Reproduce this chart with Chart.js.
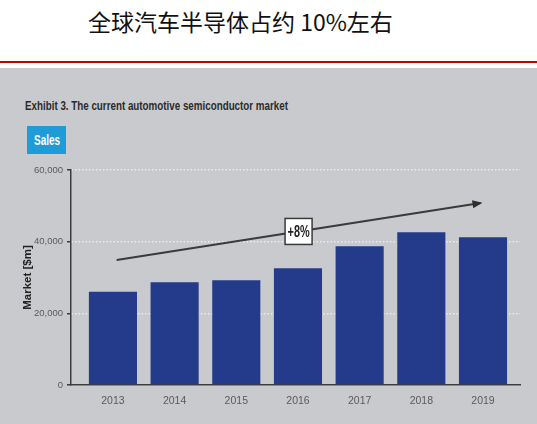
<!DOCTYPE html>
<html>
<head>
<meta charset="utf-8">
<script src="https://cdn.jsdelivr.net/npm/chart.js@4/dist/chart.umd.min.js"></script>
<style>
  html, body { margin:0; padding:0; width:537px; height:424px; overflow:hidden; background:#fff; }
  #title { position:absolute; left:88px; top:4px; font-family:"Noto Sans CJK SC", sans-serif; font-size:23px; color:#111; white-space:nowrap; }
  #rule { position:absolute; left:0; top:61px; width:537px; height:2px; background:#c80000; }
  #panel { position:absolute; left:0; top:68px; width:537px; height:356px; background:#c9cacd; }
  #exhibit { position:absolute; left:25px; top:98px; font-family:"Liberation Sans", Arial, sans-serif; font-weight:bold; font-size:13px; color:#2b2b2b; white-space:nowrap; transform-origin:0 50%; display:inline-block; }
  #sales { position:absolute; left:27px; top:126px; width:39px; height:28px; background:#1f9bd8; }
  #salesText { position:absolute; left:0; top:0; color:#fff; font-family:"Liberation Sans", Arial, sans-serif; font-weight:bold; font-size:14.5px; line-height:28px; white-space:nowrap; transform-origin:0 50%; display:inline-block; }
  #wrap { position:absolute; left:0; top:160px; width:537px; height:264px; }
</style>
</head>
<body>
<div id="title">全球汽车半导体占约 10%左右</div>
<div id="rule"></div>
<div id="panel"></div>
<div id="exhibit">Exhibit 3. The current automotive semiconductor market</div>
<div id="sales"><span id="salesText">Sales</span></div>
<div id="wrap"><canvas id="c" width="537" height="264"></canvas></div>
<script>
const years = [2013, 2014, 2015, 2016, 2017, 2018, 2019];
const sales = [26000, 28700, 29200, 32600, 38700, 42600, 41200];
const trendX = [2013.06, 2018.96];
const trendY = [34900, 50800];
const trendLabel = '+8%';
const yTicks = [0, 20000, 40000, 60000];

// condense HTML labels to the reference's narrow type
(function () {
  const ex = document.getElementById('exhibit');
  const w = ex.getBoundingClientRect().width;
  ex.style.transform = 'scaleX(' + (263 / w) + ')';
  const st = document.getElementById('salesText');
  const sw = st.getBoundingClientRect().width;
  const target = 26;
  st.style.transform = 'scaleX(' + (target / sw) + ')';
  st.style.left = ((39 - target) / 2) + 'px';
})();

const sans = '"Liberation Sans", Arial, sans-serif';

const trendPlugin = {
  id: 'trend',
  afterDatasetsDraw(chart) {
    const meta = chart.getDatasetMeta(1);
    const p0 = meta.data[0], p1 = meta.data[meta.data.length - 1];
    const ctx = chart.ctx;
    ctx.save();
    // arrowhead
    const ang = Math.atan2(p1.y - p0.y, p1.x - p0.x);
    const L = 8, W = 4;
    ctx.fillStyle = '#2e2e2e';
    ctx.beginPath();
    ctx.moveTo(p1.x + Math.cos(ang) * 2, p1.y + Math.sin(ang) * 2);
    ctx.lineTo(p1.x - Math.cos(ang) * L - Math.sin(ang) * W, p1.y - Math.sin(ang) * L + Math.cos(ang) * W);
    ctx.lineTo(p1.x - Math.cos(ang) * L + Math.sin(ang) * W, p1.y - Math.sin(ang) * L - Math.cos(ang) * W);
    ctx.closePath();
    ctx.fill();
    // label box
    const mx = (p0.x + p1.x) / 2, my = (p0.y + p1.y) / 2;
    const bw = 27, bh = 26;
    ctx.fillStyle = '#ffffff';
    ctx.fillRect(mx - bw / 2, my - bh / 2, bw, bh);
    ctx.strokeStyle = '#3a3a3a';
    ctx.lineWidth = 1.5;
    ctx.strokeRect(mx - bw / 2, my - bh / 2, bw, bh);
    ctx.translate(mx, my + 1);
    ctx.scale(0.68, 1);
    ctx.fillStyle = '#222';
    ctx.font = 'bold 16px ' + sans;
    ctx.textAlign = 'center';
    ctx.textBaseline = 'middle';
    ctx.fillText(trendLabel, 0, 0);
    ctx.restore();
  }
};

new Chart(document.getElementById('c'), {
  type: 'bar',
  data: {
    datasets: [
      {
        type: 'bar',
        data: years.map((y, i) => ({ x: y, y: sales[i] })),
        backgroundColor: '#243a8b',
        borderWidth: 0,
        categoryPercentage: 1,
        barPercentage: 0.78
      },
      {
        type: 'line',
        data: trendX.map((x, i) => ({ x: x, y: trendY[i] })),
        borderColor: '#3a3a3a',
        borderWidth: 2,
        pointRadius: 0,
        fill: false
      }
    ]
  },
  options: {
    responsive: false,
    animation: false,
    events: [],
    layout: { padding: { top: 10, right: 17, left: 0, bottom: 0 } },
    plugins: { legend: { display: false }, tooltip: { enabled: false } },
    scales: {
      x: {
        type: 'linear',
        offset: false,
        min: 2012.32,
        max: 2019.6,
        afterBuildTicks: (axis) => { axis.ticks = years.map(v => ({ value: v })); },
        afterFit: (axis) => { axis.height = 39; },
        grid: { display: true, drawOnChartArea: false, drawTicks: false, offset: false },
        border: { display: true, color: '#3c3c3c', width: 1.5 },
        ticks: {
          padding: 10,
          color: '#5a5a5a',
          font: { family: sans, size: 10.5 },
          callback: (v) => String(v),
          maxRotation: 0
        }
      },
      y: {
        min: 0,
        max: 60000,
        afterBuildTicks: (axis) => { axis.ticks = yTicks.map(v => ({ value: v })); },
        afterFit: (axis) => { axis.width = 71; },
        grid: {
          color: 'rgba(236,237,241,0.95)',
          lineWidth: 1.5,
          tickLength: 4,
          tickColor: '#3c3c3c',
          tickWidth: 1.5,
          tickBorderDash: []
        },
        border: { display: true, color: '#3c3c3c', width: 1.5, dash: [1.5, 2] },
        title: {
          display: true,
          text: 'Market [$m]',
          color: '#222',
          font: { family: sans, size: 11.5, weight: 'bold' },
          padding: { top: 21, bottom: 0 }
        },
        ticks: {
          padding: 4,
          color: '#5a5a5a',
          font: { family: sans, size: 9.5 },
          callback: (v) => v.toLocaleString('en-US')
        }
      }
    }
  },
  plugins: [trendPlugin]
});
</script>
</body>
</html>
